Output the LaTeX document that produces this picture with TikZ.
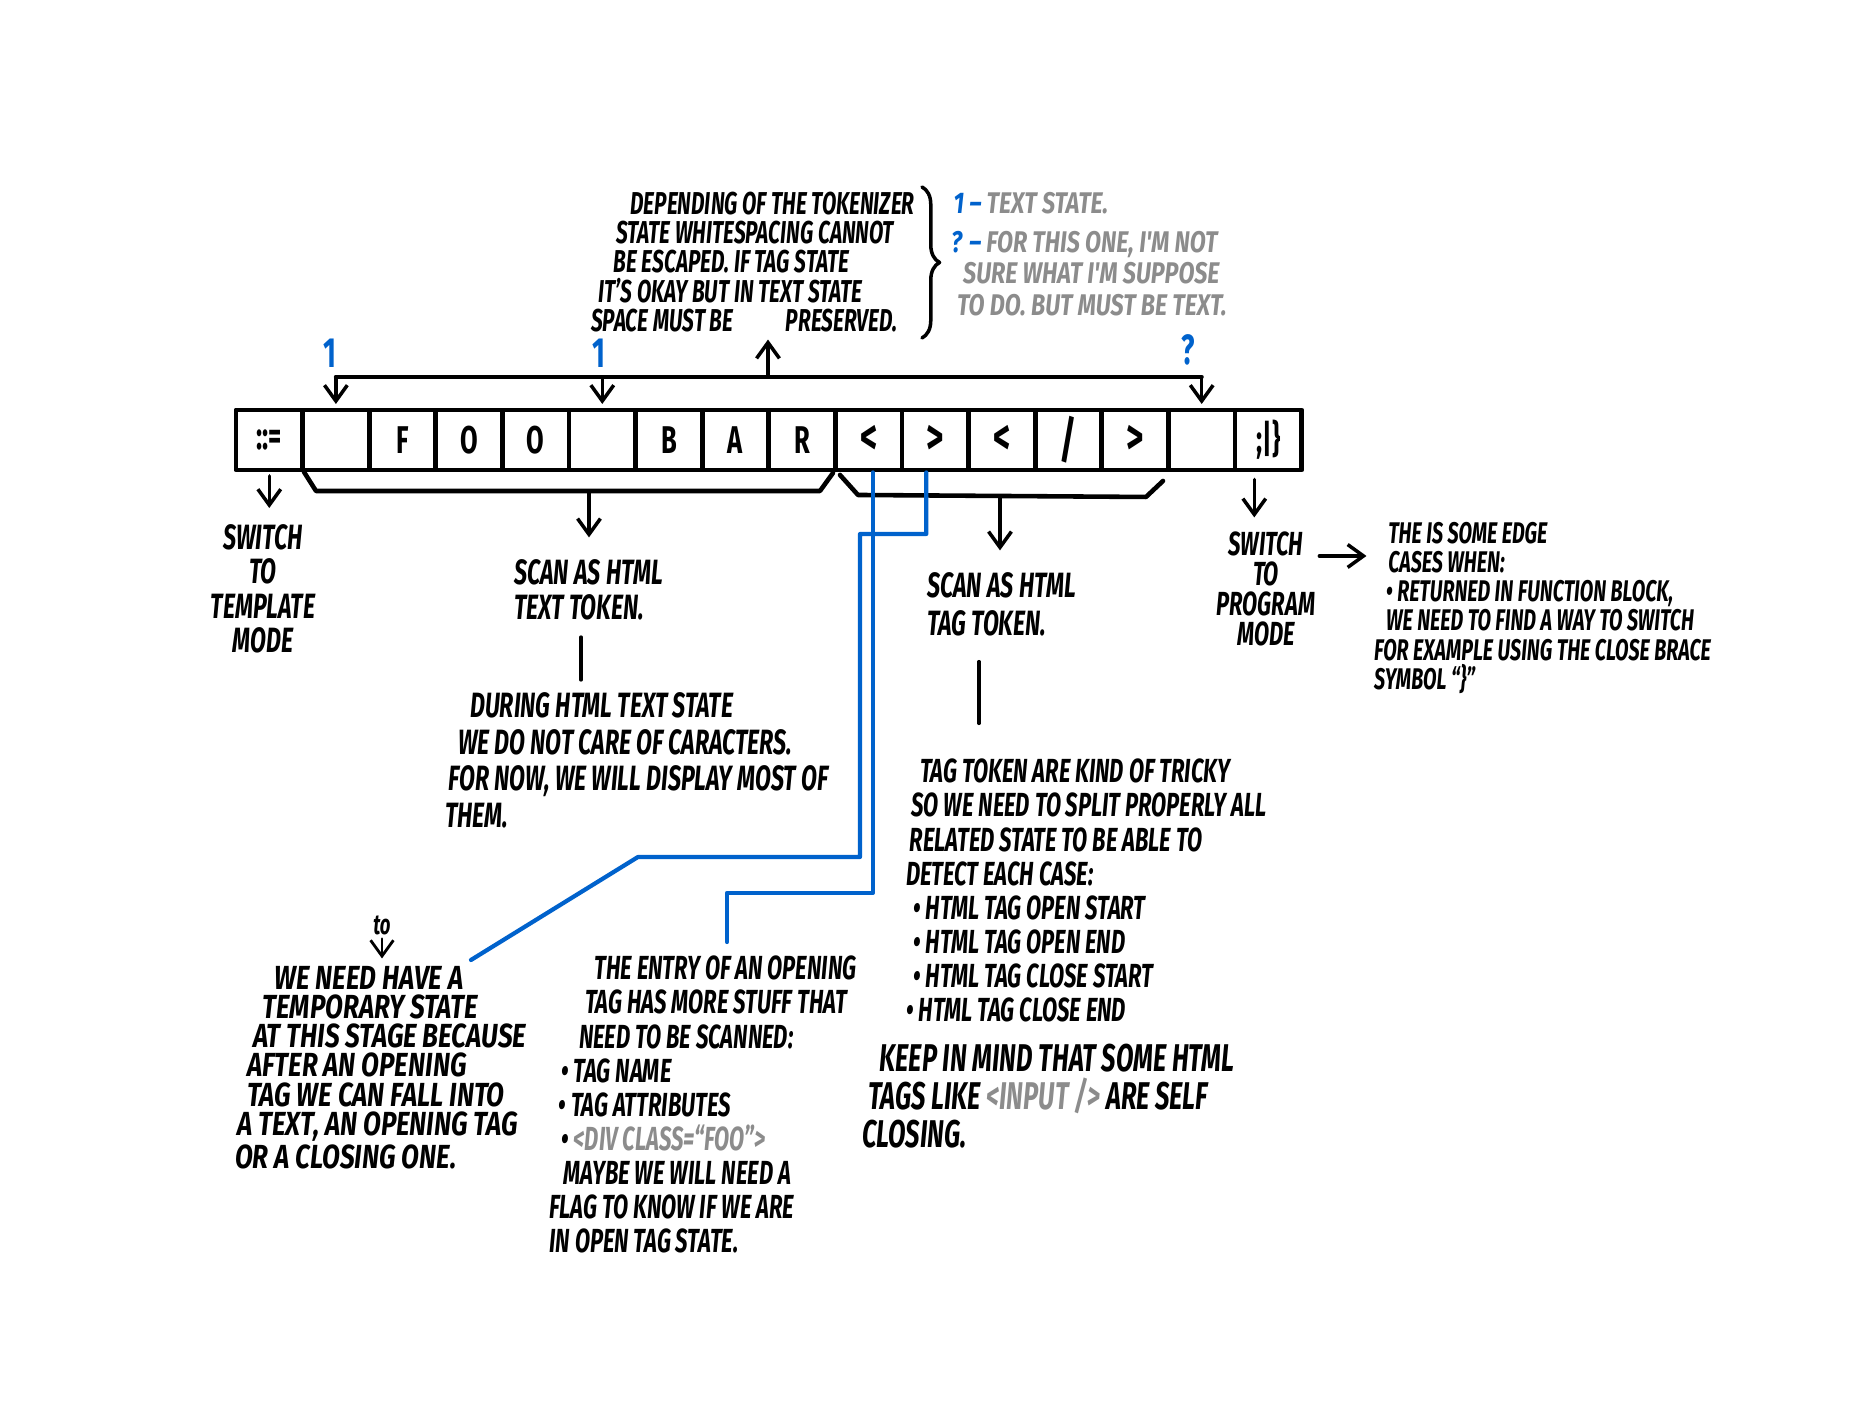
\documentclass[tikz,border=0pt]{standalone}
\usepackage{fontspec}
\setmainfont{Fira Sans}[FakeStretch=0.66]
\newfontfamily\widefont{Fira Sans}[FakeStretch=0.78]
\usepackage{tikz}
\usetikzlibrary{positioning,arrows.meta,decorations.pathreplacing}
\definecolor{inkblue}{RGB}{0,98,204}
\definecolor{inkgray}{RGB}{140,140,140}
\newcommand{\hand}[2]{\fontsize{#1}{#2}\selectfont\bfseries\itshape}

\begin{document}
\begin{tikzpicture}[>={Straight Barb[length=4.5pt,width=6.5pt]}, line cap=round, line join=round]
  \tikzstyle{cell}=[rectangle, draw, line width=1.4pt, minimum width=0.666cm, minimum height=0.6cm, inner sep=0pt, font=\hand{11}{11}\upshape]
  \tikzstyle{note}=[inner sep=1pt, align=left]
  \tikzstyle{arrow}=[->, line width=1pt, shorten >=1pt]
  \tikzstyle{wire}=[inkblue, line width=1.2pt]
  \tikzstyle{num}=[inkblue, inner sep=0pt, font=\hand{12}{12}\upshape]

  \fill[white] (0,0) rectangle (18.72,14.04);
  \useasboundingbox (0,0) rectangle (18.72,14.04);

  \node[cell] (C_1) at (2.693,9.64) {::=};
  \node[cell] (C_2) at (3.359,9.64) {};
  \node[cell] (C_3) at (4.025,9.64) {F};
  \node[cell] (C_4) at (4.691,9.64) {O};
  \node[cell] (C_5) at (5.357,9.64) {O};
  \node[cell] (C_6) at (6.023,9.64) {};
  \node[cell] (C_7) at (6.689,9.64) {B};
  \node[cell] (C_8) at (7.355,9.64) {A};
  \node[cell] (C_9) at (8.021,9.64) {R};
  \node[cell] (C_10) at (8.687,9.64) {\Large <};
  \node[cell] (C_11) at (9.353,9.64) {\Large >};
  \node[cell] (C_12) at (10.019,9.64) {\Large <};
  \node[cell] (C_13) at (10.685,9.64) {\Large /};
  \node[cell] (C_14) at (11.351,9.64) {\Large >};
  \node[cell] (C_15) at (12.017,9.64) {};
  \node[cell] (C_16) at (12.683,9.64) {;|\}};

  \node[num] (N_1) at (3.30,10.51) {1};
  \node[num] (N_2) at (5.99,10.51) {1};
  \node[num] (N_3) at (11.88,10.54) {?};

  \node[note, anchor=west, font=\hand{9}{8.3}] (depnote) at (5.87,11.42)
    {\hspace{11.2pt}DEPENDING OF THE TOKENIZER\\ \hspace{7.1pt}STATE WHITESPACING CANNOT\\ \hspace{6.4pt}BE ESCAPED. IF TAG STATE\\ \hspace{2pt}IT'S OKAY BUT IN TEXT STATE\\ SPACE MUST BE\hspace{15pt}PRESERVED.};
  \draw[line width=1pt, decorate, decoration={brace, amplitude=5pt}] (9.22,12.17) -- (9.22,10.66);
  \node[note, anchor=north west, text=inkgray, font=\widefont\hand{8.5}{9}] (statenote) at (9.47,12.16)
    {\hspace{0.7pt}{\color{inkblue}1 –} TEXT STATE.\\[2pt] {\color{inkblue}? –} FOR THIS ONE, I'M NOT\\ \hspace{3.4pt}SURE WHAT I'M SUPPOSE\\ \hspace{1.7pt}TO DO. BUT MUST BE TEXT.};

  % top rail
  \coordinate (T) at (7.68,10.27);
  \draw[line width=1.2pt] (C_2 |- T) -- (C_15 |- T);
  \draw[arrow] (C_2 |- T) -- (C_2.north);
  \draw[arrow] (C_6 |- T) -- (C_6.north);
  \draw[arrow] (C_15 |- T) -- (C_15.north);
  \draw[arrow] (T) -- (T |- depnote.south);

  % brackets under the tape
  \draw[line width=1.3pt] (3.04,9.32) -- (3.16,9.13) -- (8.20,9.13) -- (8.33,9.31);
  \draw[line width=1.3pt] (8.40,9.29) -- (8.58,9.09) -- (11.46,9.07) -- (11.63,9.23);
  \coordinate (B_1) at (5.89,9.13);
  \coordinate (B_2) at (10.00,9.08);

  \node[note, align=center, anchor=north, font=\hand{10}{9.8}] (tmpl) at (2.63,8.84) {SWITCH\\ TO\\ TEMPLATE\\ MODE};
  \node[note, anchor=north west, font=\hand{10}{10}] (scantext) at (5.10,8.49) {SCAN AS HTML\\ TEXT TOKEN.};
  \node[note, anchor=north west, font=\hand{10}{10.5}] (during) at (4.41,7.16)
    {\hspace{7.1pt}DURING HTML TEXT STATE\\ \hspace{3.7pt}WE DO NOT CARE OF CARACTERS.\\ \hspace{1pt}FOR NOW, WE WILL DISPLAY MOST OF\\ THEM.};
  \node[note, anchor=north west, font=\hand{10}{11}] (tagscan) at (9.23,8.36) {SCAN AS HTML\\ TAG TOKEN.};
  \node[note, anchor=north west, font=\hand{9.5}{9.7}] (tagnote) at (9.02,6.49)
    {\hspace{4pt}TAG TOKEN ARE KIND OF TRICKY\\ \hspace{1.5pt}SO WE NEED TO SPLIT PROPERLY ALL\\ \hspace{1pt}RELATED STATE TO BE ABLE TO\\ DETECT EACH CASE:\\ \hspace{2pt}• HTML TAG OPEN START\\ \hspace{2pt}• HTML TAG OPEN END\\ \hspace{2pt}• HTML TAG CLOSE START\\ • HTML TAG CLOSE END};
  \node[note, anchor=north west, font=\hand{11}{10.8}] (keepnote) at (8.58,3.64)
    {\hspace{5pt}KEEP IN MIND THAT SOME HTML\\ \hspace{1.7pt}TAGS LIKE {\color{inkgray}<INPUT />} ARE SELF\\ CLOSING.};
  \node[note, align=center, anchor=north, font=\hand{9.5}{8.5}] (prog) at (12.66,8.76) {SWITCH\\ TO\\ PROGRAM\\ MODE};
  \node[note, anchor=north west, font=\hand{8.5}{8.3}] (edge) at (13.70,8.86)
    {\hspace{4pt}THE IS SOME EDGE\\ \hspace{4pt}CASES WHEN:\\ \hspace{3.4pt}• RETURNED IN FUNCTION BLOCK,\\ \hspace{3.4pt}WE NEED TO FIND A WAY TO SWITCH\\ FOR EXAMPLE USING THE CLOSE BRACE\\ SYMBOL “\}”};
  \node[note, anchor=north west, font=\widefont\hand{9.5}{8.3}] (tempnote) at (2.31,4.42)
    {\hspace{11.2pt}WE NEED HAVE A\\ \hspace{7.8pt}TEMPORARY STATE\\ \hspace{5.1pt}AT THIS STAGE BECAUSE\\ \hspace{3.4pt}AFTER AN OPENING\\ \hspace{3.4pt}TAG WE CAN FALL INTO\\ \hspace{0.7pt}A TEXT, AN OPENING TAG\\ OR A CLOSING ONE.};
  \node[note, font=\hand{8}{8}] (caret) at (3.82,4.79) {to};
  \node[note, anchor=north west, font=\hand{9.5}{9.7}] (entry) at (5.45,4.52)
    {\hspace{12.9pt}THE ENTRY OF AN OPENING\\ \hspace{10.2pt}TAG HAS MORE STUFF THAT\\ \hspace{8.5pt}NEED TO BE SCANNED:\\ \hspace{3.4pt}• TAG NAME\\ \hspace{2.7pt}• TAG ATTRIBUTES\\ \hspace{3.4pt}• {\color{inkgray}<DIV CLASS=“FOO”>}\\ \hspace{4.1pt}MAYBE WE WILL NEED A\\ FLAG TO KNOW IF WE ARE\\ IN OPEN TAG STATE.};

  % arrows to the notes
  \draw[arrow, shorten <=1pt, shorten >=3.4pt] (C_1.south) -- (C_1.south |- tmpl.north);
  \draw[arrow, shorten >=5pt] (B_1) -- (B_1 |- scantext.north);
  \draw[arrow, shorten >=5pt] (B_2) -- (B_2 |- tagscan.north);
  \draw[arrow, shorten <=2pt, shorten >=3pt] ([xshift=-1.4mm]C_16.south) -- ([xshift=-1.4mm]C_16.south |- prog.north);
  \draw[arrow] (prog.east |- 0,8.48) -- (edge.west |- 0,8.48);
  \draw[arrow, line width=0.8pt] (caret.south) -- (caret |- tempnote.north);
  \coordinate (V_1) at (5.81,7.71);
  \coordinate (V_2) at (9.79,7.50);
  \draw[line width=1pt, shorten <=3.7pt, shorten >=2.3pt] (scantext.south -| V_1) -- (during.north -| V_1);
  \draw[line width=1pt, shorten <=6pt, shorten >=9pt] (tagscan.south -| V_2) -- (tagnote.north -| V_2);

  % blue wires
  \coordinate (W_1) at (7.27,4.62);
  \coordinate (W_2) at (4.71,4.44);
  \draw[wire] ([xshift=0.4mm]C_10.south) |- (7.27,5.11) -- (W_1);
  \draw[wire] ([xshift=-0.9mm]C_11.south) |- (8.60,8.70) -- (8.60,5.47) -- (6.38,5.47) -- (W_2);
\end{tikzpicture}
\end{document}
